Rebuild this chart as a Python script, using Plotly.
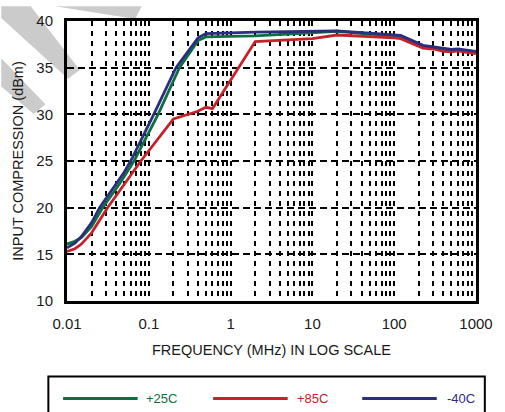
import plotly.graph_objects as go

# ---- data ----
freq_25 = [0.01, 0.0125, 0.015, 0.02, 0.0273, 0.035, 0.045, 0.066, 0.13, 0.237, 0.4, 0.5, 1, 2, 5, 10, 20, 50, 100, 120, 225, 300, 400, 500, 600, 800, 1000]
pwr_25 = [16.1, 16.4, 16.8, 18.0, 20.0, 21.3, 22.7, 25.0, 30.0, 35.0, 37.9, 38.3, 38.35, 38.4, 38.6, 38.75, 38.9, 38.6, 38.4, 38.35, 37.3, 37.1, 36.9, 36.85, 36.9, 36.75, 36.65]

freq_85 = [0.01, 0.0125, 0.015, 0.02, 0.0313, 0.04, 0.05, 0.065, 0.08, 0.2, 0.39, 0.5, 0.6, 2, 10, 20, 50, 100, 120, 225, 300, 400, 500, 600, 800, 1000]
pwr_85 = [15.3, 15.6, 16.1, 17.3, 20.0, 21.3, 22.5, 23.9, 25.0, 29.5, 30.3, 30.75, 30.6, 37.8, 38.1, 38.5, 38.35, 38.2, 38.1, 37.1, 37.0, 36.75, 36.7, 36.8, 36.6, 36.5]

freq_m40 = [0.01, 0.0125, 0.015, 0.02, 0.025, 0.03, 0.04, 0.05, 0.06, 0.115, 0.215, 0.4, 0.5, 1, 2, 5, 10, 20, 50, 100, 120, 225, 300, 400, 500, 600, 800, 1000]
pwr_m40 = [15.7, 16.2, 16.9, 18.4, 20.0, 21.0, 22.6, 23.8, 25.0, 30.0, 35.0, 38.2, 38.65, 38.75, 38.8, 38.85, 38.9, 38.95, 38.7, 38.5, 38.45, 37.4, 37.25, 37.05, 36.95, 37.0, 36.85, 36.75]

x_tickvals = [0.01, 0.1, 1, 10, 100, 1000]
x_ticktext = ["0.01", "0.1", "1", "10", "100", "1000"]
y_tickvals = [10, 15, 20, 25, 30, 35, 40]

series_names = ["+25C", "+85C", "-40C"]
series_colors = ["#0b7040", "#c62128", "#2b2e7e"]

W, H = 505, 412
ML, MR, MT, MB = 67, 21, 15, 111
PW, PH = W - ML - MR, H - MT - MB

def px(x):
    return (x - ML) / PW

def py(y):
    return (H - MB - y) / PH

minor_vals = [m * 10 ** k for k in range(-2, 3) for m in range(2, 10)]

FONT = "Liberation Sans, Arial, Helvetica, sans-serif"
TXT = "#1a1a1a"

fig = go.Figure()
for f, p, name, col in zip([freq_25, freq_85, freq_m40], [pwr_25, pwr_85, pwr_m40], series_names, series_colors):
    fig.add_trace(go.Scatter(x=f, y=p, mode="lines", name=name,
                             line=dict(color=col, width=2.8), showlegend=False))

grey = "#cbcbcb"
shapes = []
# watermark fragments (top-left)
for poly in [
    [(55, 0), (143, 0), (137, 12), (130, 12)],
    [(0, 0), (30, 0), (80, 65), (68, 74), (0, 12)],
    [(0, 53), (45, 100), (33, 110), (0, 82)],
]:
    path = "M " + " L ".join(f"{px(a):.4f},{py(b):.4f}" for a, b in poly) + " Z"
    shapes.append(dict(type="path", path=path, xref="paper", yref="paper",
                       fillcolor=grey, line=dict(width=0), layer="below"))

# legend box
shapes.append(dict(type="rect", xref="paper", yref="paper",
                   x0=px(48), x1=px(493), y0=py(378), y1=py(425),
                   line=dict(color="black", width=2), fillcolor="rgba(0,0,0,0)"))
annotations = []
leg_y = 400.7
for (x0, x1, xt), name, col in zip([(63, 139, 146), (216, 292, 299), (368, 444, 452)], series_names, series_colors):
    shapes.append(dict(type="line", xref="paper", yref="paper",
                       x0=px(x0), x1=px(x1), y0=py(leg_y), y1=py(leg_y),
                       line=dict(color=col, width=3)))
    annotations.append(dict(x=px(xt), y=py(leg_y), xref="paper", yref="paper",
                            text=name, showarrow=False, xanchor="left", yanchor="middle",
                            font=dict(family=FONT, size=13, color=col)))

fig.update_layout(
    width=W, height=H,
    margin=dict(l=ML, r=MR, t=MT, b=MB),
    paper_bgcolor="white", plot_bgcolor="white",
    font=dict(family=FONT, color=TXT),
    shapes=shapes, annotations=annotations,
    showlegend=False,
)
fig.update_xaxes(
    type="log", range=[-2, 3],
    tickvals=x_tickvals, ticktext=x_ticktext,
    showgrid=True, gridcolor="black", griddash="5px,5px", gridwidth=2,
    minor=dict(tickvals=minor_vals, showgrid=True, gridcolor="black", griddash="5px,5px", gridwidth=2, ticks=""),
    showline=True, linewidth=3, linecolor="black", mirror=True,
    ticks="outside", ticklen=7, tickcolor="rgba(0,0,0,0)",
    tickfont=dict(size=15, family=FONT, color=TXT),
    title=dict(text="FREQUENCY (MHz) IN LOG SCALE", font=dict(size=14.5, family=FONT, color=TXT), standoff=14),
    zeroline=False,
)
fig.update_yaxes(
    range=[10, 40], tickvals=y_tickvals,
    showgrid=True, gridcolor="black", griddash="7px,4px", gridwidth=2,
    showline=True, linewidth=3, linecolor="black", mirror=True,
    ticks="outside", ticklen=8, tickcolor="rgba(0,0,0,0)",
    tickfont=dict(size=15, family=FONT, color=TXT),
    title=dict(text="INPUT COMPRESSION (dBm)", font=dict(size=14.5, family=FONT, color=TXT), standoff=10),
    zeroline=False,
)

fig.write_html("out.html")
